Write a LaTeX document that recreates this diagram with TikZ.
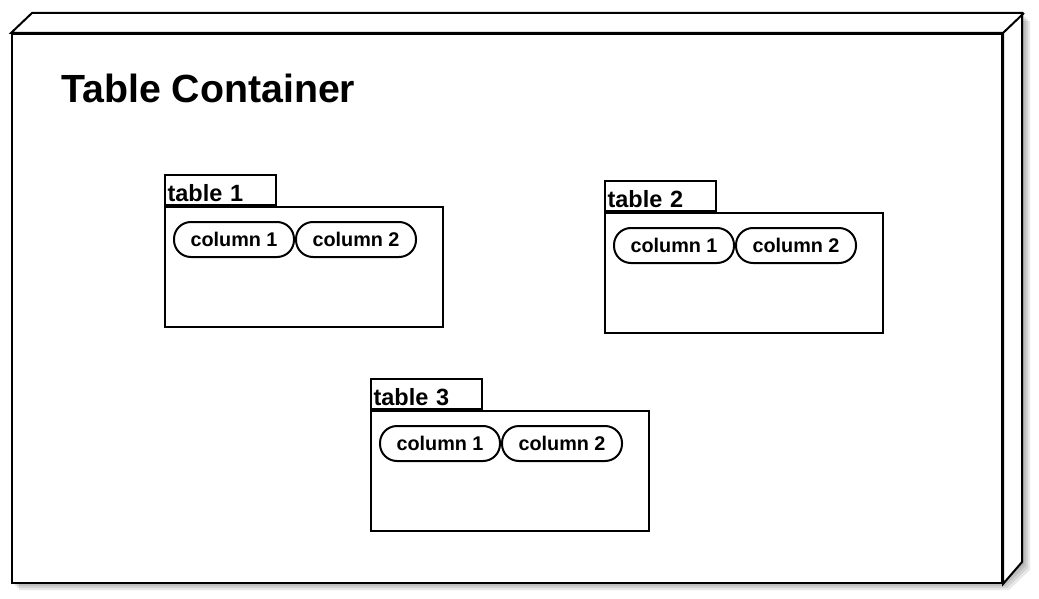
\documentclass[tikz,border=0pt]{standalone}
\usepackage{fontspec}
\setmainfont{Liberation Sans}
\usetikzlibrary{positioning}

\begin{document}
\begin{tikzpicture}[x=1pt, y=-1pt,
    boxline/.style={line width=2pt, line join=miter},
    frontface/.style={draw, line width=2pt, fill=white, minimum width=990pt, minimum height=549pt, inner sep=0pt, anchor=north west},
    tablebody/.style={draw, line width=2pt, minimum width=278pt, minimum height=120pt, inner sep=0pt, anchor=north west},
    tabbox/.style={draw, line width=2pt, minimum width=111pt, minimum height=30pt, text width=106pt, inner xsep=2.5pt, inner ysep=2pt, text height=23pt, text depth=1pt, font=\fontsize{23.5}{26}\selectfont\bfseries},
    colpill/.style={draw, line width=2pt, rounded corners=17pt, minimum width=120pt, minimum height=35pt, inner sep=0pt, font=\fontsize{19.8}{22}\selectfont\bfseries}
]
    \useasboundingbox (0,0) rectangle (1039,599);

    % Shadow
    \foreach \s in {2,4,6,8}
        \fill[black, opacity=0.09, shift={(\s,\s)}] (11,33) -- (32,13) -- (1022,13) -- (1022,562) -- (1001,582) -- (11,582) -- cycle;

    % Container
    \node[frontface] (container) at (11,33) {};
    \draw[boxline, fill=white] (container.north west) -- ++(21,-20) -- ++(990,0) -- ++(0,549) -- (container.south east) -- (container.north east) -- cycle;
    \draw[boxline] (container.north east) -- ++(21,-20);
    \node[anchor=base west, inner sep=0pt, font=\fontsize{39.3}{44}\selectfont\bfseries] (title) at (61,103) {Table Container};

    % Table 1
    \node[tablebody] (t1body) at (164,206) {};
    \node[tabbox, above right=0pt of t1body.north west] (t1tab) {table 1};
    \node[colpill, below right=15pt and 9pt of t1body.north west] (t1col1) {column 1};
    \node[colpill, right=0pt of t1col1] (t1col2) {column 2};

    % Table 2
    \node[tablebody] (t2body) at (604,212) {};
    \node[tabbox, above right=0pt of t2body.north west] (t2tab) {table 2};
    \node[colpill, below right=15pt and 9pt of t2body.north west] (t2col1) {column 1};
    \node[colpill, right=0pt of t2col1] (t2col2) {column 2};

    % Table 3
    \node[tablebody] (t3body) at (370,410) {};
    \node[tabbox, above right=0pt of t3body.north west] (t3tab) {table 3};
    \node[colpill, below right=15pt and 9pt of t3body.north west] (t3col1) {column 1};
    \node[colpill, right=0pt of t3col1] (t3col2) {column 2};
\end{tikzpicture}
\end{document}
